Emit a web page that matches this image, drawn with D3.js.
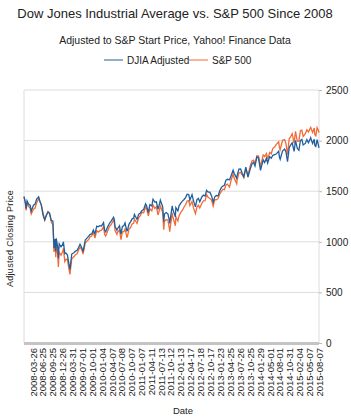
<!DOCTYPE html>
<html>
<head>
<meta charset="utf-8">
<script src="https://cdn.jsdelivr.net/npm/d3@7"></script>
<style>
  body { margin: 0; background: #fff; }
  text { font-family: 'Liberation Sans', Arial, sans-serif; fill: #222; }
</style>
</head>
<body>
<script>
// semi-monthly closes
const dates = ['2008-01-02','2008-01-15','2008-01-22','2008-01-31','2008-02-15','2008-02-29','2008-03-10','2008-03-31','2008-04-15','2008-04-30','2008-05-19','2008-05-30','2008-06-13','2008-06-30','2008-07-15','2008-07-31','2008-08-15','2008-08-29','2008-09-15','2008-09-30','2008-10-10','2008-10-20','2008-10-27','2008-10-31','2008-11-14','2008-11-20','2008-11-28','2008-12-15','2008-12-31',
  '2009-01-06','2009-01-20','2009-01-30','2009-02-13','2009-02-27','2009-03-09','2009-03-26','2009-04-15','2009-04-30','2009-05-15','2009-05-29','2009-06-12','2009-06-30','2009-07-10','2009-07-31','2009-08-14','2009-08-31','2009-09-15','2009-09-30','2009-10-15','2009-10-30','2009-11-16','2009-11-30','2009-12-15','2009-12-31',
  '2010-01-19','2010-01-29','2010-02-08','2010-02-26','2010-03-15','2010-03-31','2010-04-23','2010-04-30','2010-05-07','2010-05-25','2010-05-28','2010-06-18','2010-06-30','2010-07-02','2010-07-15','2010-07-30','2010-08-09','2010-08-26','2010-08-31','2010-09-15','2010-09-30','2010-10-15','2010-10-29','2010-11-05','2010-11-30','2010-12-15','2010-12-31',
  '2011-01-14','2011-01-31','2011-02-18','2011-02-28','2011-03-16','2011-03-31','2011-04-18','2011-04-29','2011-05-16','2011-05-31','2011-06-15','2011-06-30','2011-07-07','2011-07-29','2011-08-08','2011-08-15','2011-08-31','2011-09-16','2011-09-30','2011-10-03','2011-10-27','2011-10-31','2011-11-25','2011-11-30','2011-12-19','2011-12-30',
  '2012-01-17','2012-01-31','2012-02-15','2012-02-29','2012-03-15','2012-03-30','2012-04-10','2012-04-30','2012-05-15','2012-06-01','2012-06-15','2012-06-29','2012-07-12','2012-07-31','2012-08-15','2012-08-31','2012-09-14','2012-09-28','2012-10-15','2012-10-31','2012-11-15','2012-11-30','2012-12-14','2012-12-31',
  '2013-01-15','2013-01-31','2013-02-15','2013-02-28','2013-03-15','2013-03-28','2013-04-18','2013-04-30','2013-05-21','2013-05-31','2013-06-24','2013-06-28','2013-07-15','2013-07-31','2013-08-15','2013-08-30','2013-09-18','2013-09-30','2013-10-08','2013-10-31','2013-11-15','2013-11-29','2013-12-13','2013-12-31',
  '2014-01-15','2014-02-03','2014-02-28','2014-03-14','2014-03-31','2014-04-11','2014-04-30','2014-05-15','2014-05-30','2014-06-16','2014-06-30','2014-07-24','2014-07-31','2014-08-07','2014-08-29','2014-09-18','2014-09-30','2014-10-15','2014-10-31','2014-11-14','2014-11-28','2014-12-16','2014-12-29',
  '2015-01-15','2015-01-30','2015-02-13','2015-02-27','2015-03-11','2015-03-31','2015-04-15','2015-04-30','2015-05-21','2015-05-29','2015-06-08','2015-06-23','2015-06-29','2015-07-08','2015-07-20','2015-07-31','2015-08-07']

const djiaAdjusted = [1447,1387,1328,1404,1370,1361,1303,1361,1372,1422,1445,1402,1365,1259,1216,1262,1294,1281,1211,1204,938,1028,907,1035,943,838,980,950,974,
  1000,882,888,871,784,726,879,891,906,917,943,976,937,904,1018,1034,1054,1074,1078,1116,1078,1155,1148,1160,1157,
  1190,1117,1099,1146,1181,1205,1243,1221,1152,1114,1125,1159,1084,1075,1149,1161,1187,1108,1111,1173,1197,1227,1234,1270,1221,1271,1285,
  1308,1319,1375,1356,1288,1367,1354,1421,1392,1395,1320,1377,1411,1347,1199,1274,1289,1277,1211,1182,1355,1326,1246,1337,1305,1356,
  1385,1402,1418,1437,1470,1466,1411,1466,1402,1345,1417,1429,1395,1443,1461,1452,1508,1491,1490,1453,1392,1445,1457,1454,
  1502,1538,1551,1559,1610,1618,1613,1646,1707,1677,1627,1654,1718,1720,1677,1643,1739,1679,1639,1725,1771,1785,1748,1839,
  1829,1706,1811,1783,1826,1778,1840,1825,1855,1862,1867,1895,1838,1816,1897,1916,1891,1791,1930,1957,1978,1894,2001,
  1922,1904,1999,2012,1957,1972,2010,1979,2029,1998,1971,2013,1952,1943,2010,1963,1928]

const sp500 = [1447,1380,1310,1379,1349,1331,1273,1323,1334,1386,1426,1400,1360,1280,1215,1267,1298,1283,1193,1166,899,986,848,969,873,752,896,868,903,
  935,805,826,827,735,677,832,852,873,882,919,946,919,879,987,1005,1021,1053,1057,1096,1036,1110,1096,1108,1115,
  1150,1074,1056,1104,1150,1169,1217,1187,1111,1074,1089,1117,1031,1022,1096,1102,1128,1047,1049,1126,1141,1176,1183,1225,1181,1236,1258,
  1293,1286,1343,1327,1257,1326,1305,1364,1330,1345,1265,1321,1354,1292,1119,1204,1219,1216,1131,1099,1285,1253,1159,1247,1206,1258,
  1293,1312,1344,1366,1402,1408,1358,1398,1330,1278,1343,1362,1334,1379,1405,1407,1466,1441,1429,1412,1353,1416,1414,1426,
  1472,1498,1520,1515,1561,1569,1541,1598,1669,1631,1573,1606,1682,1686,1662,1633,1726,1682,1656,1757,1798,1806,1775,1848,
  1848,1742,1859,1841,1872,1816,1884,1870,1924,1937,1960,1988,1931,1910,2003,2011,1972,1862,2018,2039,2068,1972,2091,
  1993,1995,2097,2104,2040,2068,2107,2086,2131,2107,2080,2124,2058,2047,2128,2104,2078]

const tickDates = ['2008-03-26','2008-06-25','2008-09-25','2008-12-26','2009-03-31','2009-07-01','2009-10-01','2010-01-04','2010-04-07','2010-07-08','2010-10-07','2011-01-07','2011-04-11','2011-07-13','2011-10-12','2012-01-13','2012-04-17','2012-07-18','2012-10-17','2013-01-23','2013-04-25','2013-07-26','2013-10-25','2014-01-29','2014-05-01','2014-08-01','2014-10-31','2015-02-04','2015-05-07','2015-08-07']
const yTicks = [0, 500, 1000, 1500, 2000, 2500]
const seriesNames = ['DJIA Adjusted', 'S&P 500']
const colors = ['#1f5f9e', '#f26a35']

const W = 351, H = 419
const margin = { top: 90, right: 32, bottom: 76, left: 24 }
const width = W - margin.left - margin.right
const height = H - margin.top - margin.bottom
const parseDate = d3.timeParse('%Y-%m-%d')

const rows = dates.map((d, i) => ({ date: parseDate(d), djia: djiaAdjusted[i], sp: sp500[i] }))

const svg = d3.select('body').append('svg')
  .attr('width', W)
  .attr('height', H)

const g = svg.append('g')
  .attr('transform', `translate(${margin.left}, ${margin.top})`)

const xScale = d3.scaleTime()
  .domain(d3.extent(rows, d => d.date))
  .range([0, width])

const yScale = d3.scaleLinear()
  .domain([0, 2500])
  .range([height, 0])

// grid + frame
g.selectAll('.grid')
  .data(yTicks)
  .enter().append('line')
  .attr('x1', 0)
  .attr('x2', width)
  .attr('y1', d => yScale(d))
  .attr('y2', d => yScale(d))
  .style('stroke', '#dcdcdc')
  .style('stroke-width', 1)

g.append('line').attr('x1', 0).attr('x2', 0).attr('y1', 0).attr('y2', height)
  .style('stroke', '#dcdcdc')
g.append('line').attr('x1', width).attr('x2', width).attr('y1', 0).attr('y2', height)
  .style('stroke', '#dcdcdc')

// right axis
const yAxis = g.append('g')
  .attr('transform', `translate(${width}, 0)`)
  .call(d3.axisRight(yScale).tickValues(yTicks).tickFormat(d3.format('d')).tickSize(3).tickPadding(4))
yAxis.select('.domain').remove()
yAxis.selectAll('line').style('stroke', '#bbb')
yAxis.selectAll('text').style('font-size', '10px').style('fill', '#222')

// bottom axis
const xAxis = g.append('g')
  .attr('transform', `translate(0, ${height})`)
  .call(d3.axisBottom(xScale).tickValues(tickDates.map(parseDate)).tickFormat(d3.timeFormat('%Y-%m-%d')).tickSize(0))
xAxis.select('.domain').remove()
xAxis.selectAll('text')
  .attr('transform', 'rotate(-90)')
  .attr('x', -5)
  .attr('y', 0)
  .attr('dy', '0.35em')
  .style('text-anchor', 'end')
  .style('font-size', '9.5px')
  .style('fill', '#222')

g.append('rect')
  .attr('x', 0)
  .attr('y', height - 1)
  .attr('width', width)
  .attr('height', 3)
  .style('fill', '#c4c4c4')

const lineDjia = d3.line().x(d => xScale(d.date)).y(d => yScale(d.djia))
const lineSp = d3.line().x(d => xScale(d.date)).y(d => yScale(d.sp))

g.append('path')
  .datum(rows)
  .attr('d', lineSp)
  .style('fill', 'none')
  .style('stroke', colors[1])
  .style('stroke-width', 1.3)

g.append('path')
  .datum(rows)
  .attr('d', lineDjia)
  .style('fill', 'none')
  .style('stroke', colors[0])
  .style('stroke-width', 1.3)

// titles
svg.append('text')
  .attr('x', 175)
  .attr('y', 18)
  .attr('text-anchor', 'middle')
  .style('font-size', '13px')
  .text('Dow Jones Industrial Average vs. S&P 500 Since 2008')

svg.append('text')
  .attr('x', 175)
  .attr('y', 44)
  .attr('text-anchor', 'middle')
  .style('font-size', '10.5px')
  .text('Adjusted to S&P Start Price, Yahoo! Finance Data')

// legend
const legendX = [104, 189]
const legend = svg.selectAll('.legend')
  .data(seriesNames)
  .enter().append('g')
  .attr('transform', (d, i) => `translate(${legendX[i]}, 60)`)
legend.append('line')
  .attr('x1', 0).attr('x2', 19).attr('y1', 0).attr('y2', 0)
  .style('stroke', (d, i) => colors[i])
  .style('stroke-width', 1)
legend.append('text')
  .attr('x', 23)
  .attr('dy', '0.35em')
  .style('font-size', '10px')
  .text(d => d)

svg.append('text')
  .attr('transform', `translate(13, ${margin.top + height / 2 + 22}) rotate(-90)`)
  .attr('text-anchor', 'middle')
  .style('font-size', '9px')
  .style('letter-spacing', '0.3px')
  .text('Adjusted Closing Price')

svg.append('text')
  .attr('x', 183)
  .attr('y', 414)
  .attr('text-anchor', 'middle')
  .style('font-size', '9.5px')
  .text('Date')
</script>
</body>
</html>
